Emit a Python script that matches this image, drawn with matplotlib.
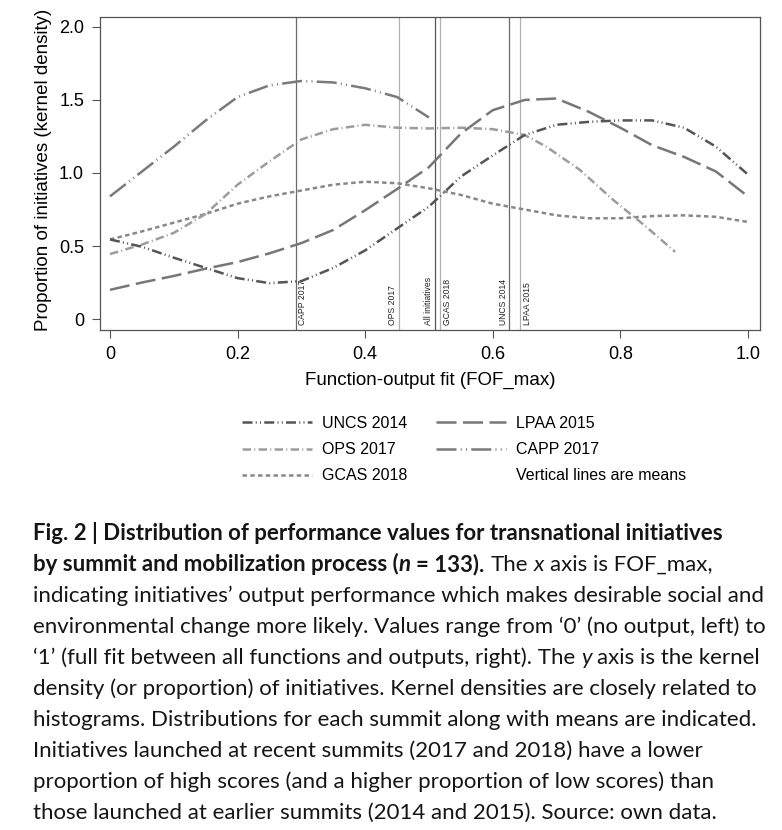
import matplotlib
matplotlib.use("Agg")
import matplotlib.pyplot as plt
from matplotlib.lines import Line2D
from matplotlib.font_manager import FontProperties
import matplotlib.transforms as mtransforms

plt.rcParams['font.family'] = ['Liberation Sans', 'DejaVu Sans']

# kernel density curves
x_std = [0, 0.05, 0.1, 0.15, 0.2, 0.25, 0.3, 0.35, 0.4, 0.45, 0.5, 0.55,
         0.6, 0.65, 0.7, 0.75, 0.8, 0.85, 0.9, 0.95, 1.0]
uncs_2014 = [0.545, 0.495, 0.42, 0.35, 0.28, 0.246, 0.26, 0.35, 0.47, 0.62, 0.77, 0.975,
             1.12, 1.26, 1.33, 1.35, 1.36, 1.36, 1.31, 1.18, 0.99]
lpaa_2015 = [0.20, 0.25, 0.295, 0.345, 0.39, 0.45, 0.52, 0.61, 0.745, 0.89, 1.04, 1.27,
             1.43, 1.50, 1.51, 1.42, 1.31, 1.19, 1.11, 1.01, 0.84]
gcas_2018 = [0.545, 0.60, 0.66, 0.72, 0.79, 0.84, 0.88, 0.92, 0.94, 0.93, 0.895, 0.85,
             0.79, 0.75, 0.71, 0.69, 0.69, 0.705, 0.71, 0.70, 0.665]

x_ops = [0, 0.05, 0.1, 0.15, 0.2, 0.25, 0.3, 0.35, 0.4, 0.45, 0.5, 0.55, 0.6,
         0.65, 0.684, 0.737, 0.789, 0.841, 0.886]
ops_2017 = [0.445, 0.51, 0.59, 0.72, 0.92, 1.08, 1.23, 1.30, 1.33, 1.31, 1.305, 1.31, 1.30,
            1.26, 1.18, 1.02, 0.815, 0.63, 0.46]

x_capp = [0, 0.05, 0.1, 0.15, 0.2, 0.25, 0.3, 0.35, 0.4, 0.45, 0.5]
capp_2017 = [0.84, 1.01, 1.18, 1.36, 1.52, 1.60, 1.63, 1.62, 1.58, 1.52, 1.38]

# group means (vertical lines)
mean_labels = ['CAPP 2017', 'OPS 2017', 'All initiatives', 'GCAS 2018', 'UNCS 2014', 'LPAA 2015']
mean_values = [0.2915, 0.453, 0.509, 0.518, 0.626, 0.643]

x_ticks = [0, 0.2, 0.4, 0.6, 0.8, 1.0]
x_ticklabels = ['0', '0.2', '0.4', '0.6', '0.8', '1.0']
y_ticks = [0, 0.5, 1.0, 1.5, 2.0]
y_ticklabels = ['0', '0.5', '1.0', '1.5', '2.0']

caption = [
    [("Fig. 2 | Distribution of performance values for transnational initiatives", 'bold', 'normal')],
    [("by summit and mobilization process (", 'bold', 'normal'), ("n", 'bold', 'italic'),
     (" = 133).", 'bold', 'normal'), (" The ", 'normal', 'normal'), ("x", 'normal', 'italic'),
     (" axis is FOF_max,", 'normal', 'normal')],
    [("indicating initiatives\u2019 output performance which makes desirable social and", 'normal', 'normal')],
    [("environmental change more likely. Values range from \u20180\u2019 (no output, left) to", 'normal', 'normal')],
    [("\u20181\u2019 (full fit between all functions and outputs, right). The ", 'normal', 'normal'),
     ("y", 'normal', 'italic'), (" axis is the kernel", 'normal', 'normal')],
    [("density (or proportion) of initiatives. Kernel densities are closely related to", 'normal', 'normal')],
    [("histograms. Distributions for each summit along with means are indicated.", 'normal', 'normal')],
    [("Initiatives launched at recent summits (2017 and 2018) have a lower", 'normal', 'normal')],
    [("proportion of high scores (and a higher proportion of low scores) than", 'normal', 'normal')],
    [("those launched at earlier summits (2014 and 2015). Source: own data.", 'normal', 'normal')],
]

W, H = 782, 830
fig = plt.figure(figsize=(W / 100, H / 100), dpi=100)
ax = fig.add_axes([100 / W, 500 / H, 660 / W, 313 / H])

lw = 1.8
styles = {
    'UNCS 2014': dict(color='#555555', dashes=(4, 1.3, 0.4, 1.3, 0.4, 1.3)),
    'LPAA 2015': dict(color='#777777', dashes=(8, 2.6)),
    'OPS 2017': dict(color='#9c9c9c', dashes=(3.4, 1.3, 0.4, 1.3)),
    'CAPP 2017': dict(color='#7a7a7a', dashes=(8, 1.7, 0.4, 1.7, 0.4, 1.7)),
    'GCAS 2018': dict(color='#888888', dashes=(1.8, 1.3)),
}

ax.plot(x_std, gcas_2018, lw=lw, **styles['GCAS 2018'])
ax.plot(x_std, lpaa_2015, lw=lw, **styles['LPAA 2015'])
ax.plot(x_ops, ops_2017, lw=lw, **styles['OPS 2017'])
ax.plot(x_capp, capp_2017, lw=lw, **styles['CAPP 2017'])
ax.plot(x_std, uncs_2014, lw=lw, **styles['UNCS 2014'])

# mean lines; labels sit on the right or the left of their line as in the original
vline_colors = ['#6a6a6a', '#b0b0b0', '#555555', '#b0b0b0', '#6a6a6a', '#b0b0b0']
label_side = ['right', 'left', 'left', 'right', 'left', 'right']
trans = mtransforms.blended_transform_factory(ax.transData, ax.transAxes)
for m, lab, c, side in zip(mean_values, mean_labels, vline_colors, label_side):
    ax.axvline(m, color=c, lw=0.9, zorder=1)
    dx = 2.5 if side == 'right' else -1.5
    tt = mtransforms.offset_copy(trans, fig=fig, x=dx, y=0, units='dots')
    ax.text(m, 0.015, lab, transform=tt, rotation=90,
            ha='left' if side == 'right' else 'right', va='bottom',
            fontsize=6.2, color='#222222')

ax.set_xlim(-0.0157, 1.019)
ax.set_ylim(-0.075, 2.068)
ax.set_xticks(x_ticks)
ax.set_xticklabels(x_ticklabels)
ax.set_yticks(y_ticks)
ax.set_yticklabels(y_ticklabels)
ax.tick_params(axis='both', labelsize=13, length=5.5, width=0.8, color='#555555', pad=6)
for sp in ax.spines.values():
    sp.set_color('#555555')
    sp.set_linewidth(0.9)

ax.set_xlabel('Function-output fit (FOF_max)', fontsize=13.5)
ax.xaxis.set_label_coords(0.5, -0.134)
ax.xaxis.label.set_va('top')
ax.set_ylabel('Proportion of initiatives (kernel density)', fontsize=13.5)
ax.yaxis.set_label_coords(-0.073, 0.511)

# legend
order = ['UNCS 2014', 'OPS 2017', 'GCAS 2018', 'LPAA 2015', 'CAPP 2017']
handles = [Line2D([], [], lw=lw, **styles[k]) for k in order]
handles.append(Line2D([], [], linestyle='none'))
labels = order + ['Vertical lines are means']
fig.legend(handles, labels, loc='upper left', bbox_to_anchor=(241.7 / W, 1 - 416 / H),
           ncol=2, frameon=False, fontsize=11.5, handlelength=4.4, handletextpad=0.6,
           columnspacing=1.8, labelspacing=0.7, borderpad=0, borderaxespad=0)

# caption, drawn segment by segment so bold/italic can mix on a line
renderer = fig.canvas.get_renderer()
cap_size = 16


def seg_width(s, prop):
    w, _, _ = renderer.get_text_width_height_descent(s, prop, ismath=False)
    return w


for i, line in enumerate(caption):
    x = 33
    y = H - (540 + 31 * i)
    for text, weight, style in line:
        prop = FontProperties(family='Lato', size=cap_size, weight=weight, style=style)
        space_w = seg_width('x x', prop) - seg_width('xx', prop)
        lead = len(text) - len(text.lstrip(' '))
        trail = len(text) - len(text.rstrip(' '))
        x += lead * space_w
        core = text.strip(' ')
        t = fig.text(x / W, y / H, core, fontproperties=prop, ha='left', va='baseline',
                     color='#151515')
        bb = t.get_window_extent(renderer)
        x = bb.x1 + trail * space_w

fig.savefig('out.png', dpi=100)
